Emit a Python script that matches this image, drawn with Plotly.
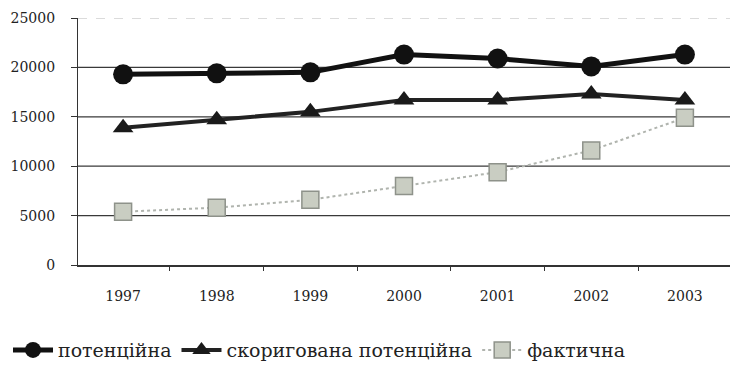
import plotly.graph_objects as go

years = ["1997", "1998", "1999", "2000", "2001", "2002", "2003"]
potential = [19300, 19400, 19500, 21300, 20900, 20100, 21300]
adjusted = [13900, 14700, 15500, 16700, 16700, 17300, 16700]
actual = [5400, 5800, 6600, 8000, 9400, 11600, 14900]
y_ticks = [0, 5000, 10000, 15000, 20000, 25000]
y_tick_text = ["0", "5000", "10000", "15000", "20000", "25000"]

FONT = "DejaVu Serif"

fig = go.Figure()
fig.add_trace(go.Scatter(
    x=years, y=potential, name="потенційна", mode="lines+markers",
    line=dict(color="#111111", width=5),
    marker=dict(symbol="circle", size=20, color="#111111"),
))
fig.add_trace(go.Scatter(
    x=years, y=adjusted, name="скоригована потенційна", mode="lines+markers",
    line=dict(color="#222222", width=4),
    marker=dict(symbol="triangle-up", size=18, color="#1a1a1a"),
))
fig.add_trace(go.Scatter(
    x=years, y=actual, name="фактична", mode="lines+markers",
    line=dict(color="#b0b4ae", width=2, dash="dot"),
    marker=dict(symbol="square", size=17, color="#c9cdc2",
                line=dict(color="#8e928a", width=1.5)),
))

# horizontal grid lines (top one faint and dashed as in the reference)
for v in y_ticks[1:]:
    top = v == y_ticks[-1]
    fig.add_shape(type="line", xref="paper", yref="y", x0=0, x1=1, y0=v, y1=v,
                  line=dict(color="#d0d0d0" if top else "#3a3a3a",
                            width=1.5 if top else 1.2,
                            dash="dash" if top else "solid"),
                  layer="below")

fig.update_layout(
    width=732, height=357,
    margin=dict(l=70, r=10, t=10, b=100),
    paper_bgcolor="white", plot_bgcolor="white",
    font=dict(family=FONT, size=14, color="#222222"),
    showlegend=True,
    legend=dict(orientation="h", xref="container", yref="container",
                x=0.0, y=0.095, xanchor="left", yanchor="top",
                font=dict(family=FONT, size=19, color="#222222"),
                itemwidth=40, tracegroupgap=0, bgcolor="rgba(0,0,0,0)"),
)
fig.update_xaxes(
    type="category", showgrid=False, showline=True, linecolor="#333333", linewidth=1.5,
    ticks="outside", tickson="boundaries", ticklen=4, tickcolor="#333333",
    ticklabelstandoff=17, zeroline=False, automargin=False,
)
fig.update_yaxes(
    range=[0, 25000], tickvals=y_ticks, ticktext=y_tick_text, showgrid=False, zeroline=False,
    showline=True, linecolor="#333333", linewidth=1.2, automargin=False,
    ticks="outside", ticklen=6, tickcolor="#333333", ticklabelstandoff=13,
)

fig.write_html("out.html")
